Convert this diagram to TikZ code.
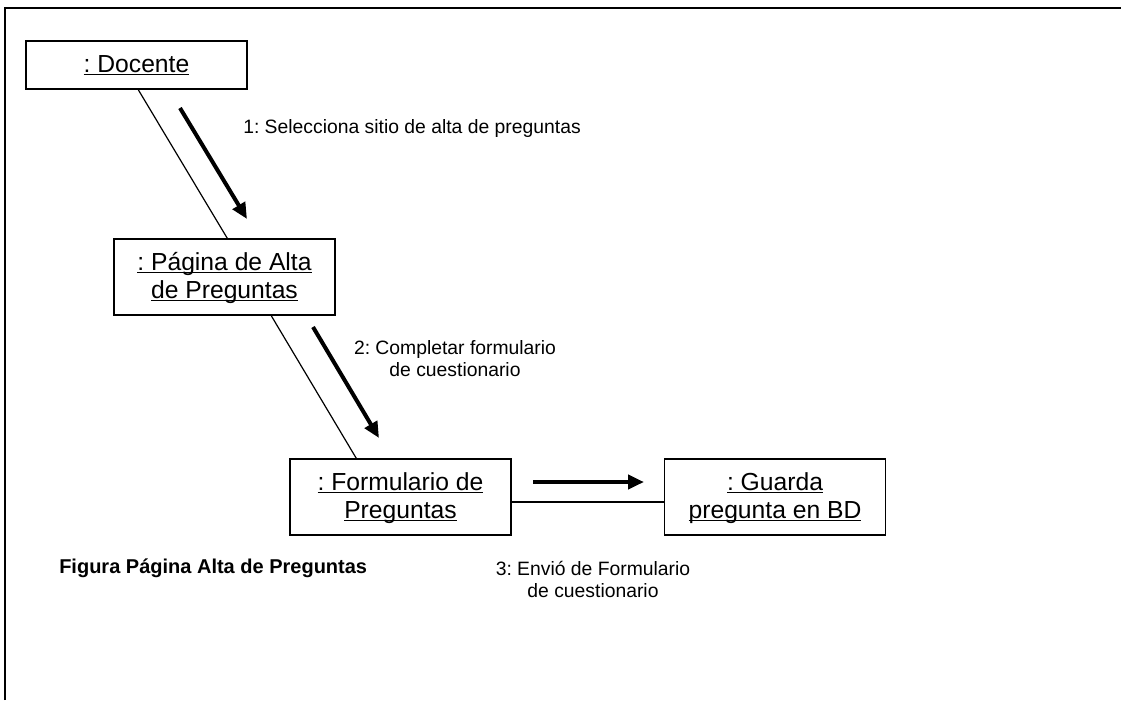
\documentclass[tikz,border=0pt]{standalone}
\usepackage{fontspec}
\setmainfont{Liberation Sans}
\usetikzlibrary{arrows.meta,calc}
\frenchspacing
\newcommand\ulx[1]{\underline{\smash{#1}\vphantom{D}}}
\begin{document}
\begin{tikzpicture}[x=0.75pt,y=-0.75pt,
  objbox/.style={draw, line width=1.1pt, minimum width=165.75pt, minimum height=36pt, inner sep=0pt,
    align=center, font=\frenchspacing\fontsize{18.5}{21}\selectfont},
  tallbox/.style={objbox, minimum height=57pt},
  link/.style={line width=0.9pt},
  msg/.style={line width=3pt, -{Triangle[length=12pt,width=10.5pt]}},
  lbl/.style={font=\frenchspacing\fontsize{14.5}{16.5}\selectfont, align=center, inner sep=0pt},
  frame/.style={line width=1.5pt}
]
\useasboundingbox (0,0) rectangle (1121,700);
\draw[frame] (5,700) -- (5,8) -- (1121,8);

\node[objbox] (doc) at (136.5,65) {\ulx{: Docente}};
\node[tallbox] (pag) at (224.5,277) {\ulx{: Página de Alta}\\\ulx{de Preguntas}};
\node[tallbox] (frm) at (400.5,497) {\ulx{: Formulario de}\\\ulx{Preguntas}};
\node[tallbox] (bd) at (775,497) {\ulx{: Guarda}\\\ulx{pregunta en BD}};

\draw[link] ($(doc.south west)+(113,0)$) -- ($(pag.north west)+(114,0)$);
\draw[link] ($(pag.south west)+(158,0)$) -- ($(frm.north west)+(67,0)$);
\draw[link] ($(frm.east)+(0,5)$) -- ($(bd.west)+(0,5)$);

\coordinate (m1s) at (180,108);
\coordinate (m1e) at (247,219);
\coordinate (m2s) at (313,327);
\coordinate (m2e) at (379,438);
\coordinate (m3s) at (533,482);
\coordinate (m3e) at (644,482);
\draw[msg] (m1s) -- (m1e);
\draw[msg] (m2s) -- (m2e);
\draw[msg] (m3s) -- (m3e);

\node[lbl, anchor=west] (l1) at (243,128) {1: Selecciona sitio de alta de preguntas};
\node[lbl] (l2) at (455,359) {2: Completar formulario\\de cuestionario};
\node[lbl] (l3) at (593,579) {3: Envió de Formulario\\de cuestionario};
\node[lbl, anchor=west, font=\bfseries\frenchspacing\fontsize{15}{17}\selectfont] (cap) at (59,568) {Figura Página Alta de Preguntas};
\end{tikzpicture}
\end{document}
